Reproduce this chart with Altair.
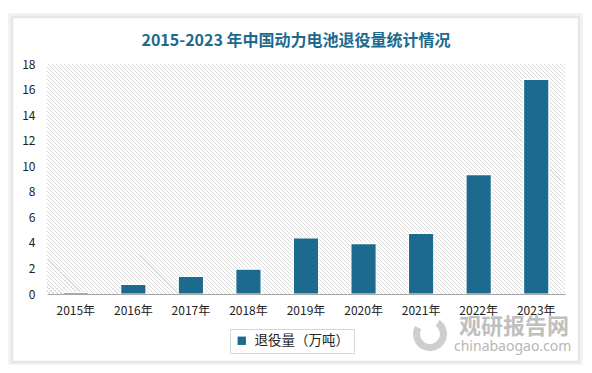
import altair as alt
import pandas as pd

years = ["2015年", "2016年", "2017年", "2018年", "2019年", "2020年", "2021年", "2022年", "2023年"]
values = [0.13, 0.76, 1.37, 1.94, 4.4, 3.95, 4.75, 9.35, 16.8]
series_name = "退役量（万吨）"
y_ticks = [0, 2, 4, 6, 8, 10, 12, 14, 16, 18]
title_text = "2015-2023 年中国动力电池退役量统计情况"

BAR = "#1c6b8e"
W, H = 518, 230
FONT = "Noto Sans CJK SC"

df = pd.DataFrame({"year": years, "value": values, "series": [series_name] * len(years)})

# diagonal hatch background via a striped linear gradient (4px horizontal period)
n_stripes = (W + H) // 4
k = (W + H) / (W * W + H * H)
dx, dy = W * k, -H * k
stops = []
for i in range(n_stripes):
    a = i / n_stripes
    m = (i + 0.74) / n_stripes
    b = (i + 1) / n_stripes
    stops += [
        alt.GradientStop(color="#ffffff", offset=a),
        alt.GradientStop(color="#ffffff", offset=m),
        alt.GradientStop(color="#dadada", offset=m),
        alt.GradientStop(color="#dadada", offset=b),
    ]
hatch_grad = alt.LinearGradient(gradient="linear", stops=stops, x1=0, y1=1, x2=dx, y2=1 + dy)

one = alt.Data(values=[{}])

shadow = alt.Chart(one).mark_rect(
    fill="white", stroke="#dcdcdc", strokeWidth=8, strokeOpacity=0.35
).encode(x=alt.value(-35), x2=alt.value(532), y=alt.value(-47), y2=alt.value(298))

card = alt.Chart(one).mark_rect(
    fill="white", stroke="#e2e2e2", strokeWidth=2.5, strokeOpacity=0.8
).encode(x=alt.value(-35), x2=alt.value(532), y=alt.value(-47), y2=alt.value(298))

hatch = alt.Chart(one).mark_rect(fill=hatch_grad).encode(
    x=alt.value(0), x2=alt.value(W), y=alt.value(0), y2=alt.value(H)
)

title = alt.Chart(one).mark_text(
    text=title_text, font=FONT, fontWeight="bold", fontSize=16, color="#1d6a8e",
    align="center", baseline="middle"
).encode(x=alt.value(249), y=alt.value(-23))

bars = alt.Chart(df).mark_bar(stroke="white", strokeWidth=1.2).encode(
    x=alt.X("year:N", sort=years, title=None,
            scale=alt.Scale(paddingInner=0.56, paddingOuter=0.28),
            axis=alt.Axis(labelAngle=0, ticks=False, domainColor="#a6a6a6", domainWidth=1.2,
                          labelFontSize=12, labelFont=FONT, labelColor="#222222", labelPadding=11,
                          zindex=1)),
    y=alt.Y("value:Q", title=None,
            scale=alt.Scale(domain=[0, 18], nice=False),
            axis=alt.Axis(values=y_ticks, grid=False, domain=False, ticks=False,
                          labelFontSize=12, labelFont=FONT, labelColor="#222222", labelPadding=12,
                          zindex=1)),
    color=alt.Color("series:N", scale=alt.Scale(range=[BAR]),
                    legend=alt.Legend(title=None, orient="none", legendX=183, legendY=265,
                                      symbolType="square", symbolSize=70, symbolStrokeWidth=0,
                                      labelFontSize=13.5, labelFont=FONT, labelColor="#222222",
                                      strokeColor="#d6d6d6", padding=5, fillColor="white",
                                      labelOffset=6, zindex=1)),
)

wm1 = alt.Chart(one).mark_text(
    text="观研报告网", font=FONT, fontWeight="bold", fontSize=22, color="#b5b5b5",
    align="left", baseline="middle", opacity=0.85
).encode(x=alt.value(412), y=alt.value(263))

wm2 = alt.Chart(one).mark_text(
    text="chinabaogao.com", font="Noto Sans", fontSize=14, color="#b0b0b0",
    align="left", baseline="middle", opacity=0.9
).encode(x=alt.value(407), y=alt.value(283))

logo = alt.Chart(one).mark_arc(
    radius=17, radius2=10, theta=0.6, theta2=5.2, color="#c2c2c2", opacity=0.8
).encode(x=alt.value(383), y=alt.value(270))

chart = alt.layer(shadow, card, hatch, title, bars, logo, wm1, wm2).properties(
    width=W, height=H,
    autosize=alt.AutoSizeParams(type="none"),
    padding={"left": 39, "top": 56, "right": 19, "bottom": 71},
    background="white",
).configure_view(stroke=None)

chart.save("out.html", embed_options={"renderer": "svg", "actions": False})
